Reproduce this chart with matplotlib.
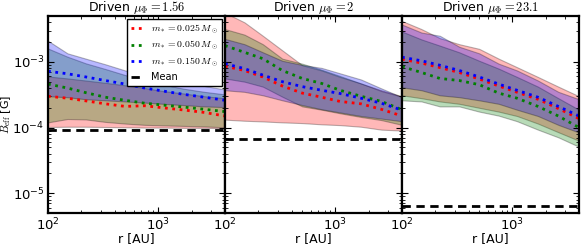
import matplotlib
matplotlib.use("Agg")
import matplotlib.pyplot as plt

plt.rcParams["mathtext.fontset"] = "cm"
plt.rcParams["font.family"] = ["DejaVu Sans"]
plt.rcParams["font.size"] = 10

# radius grid [AU]
r = [100, 150, 220, 330, 500, 750, 1100, 1700, 2600, 4000]

masses = ["0.025", "0.050", "0.150"]
colors = ["r", "g", "b"]

# ---- Driven mu = 1.56 ----
p1_mean_red = [3.0e-4, 2.8e-4, 2.55e-4, 2.3e-4, 2.1e-4, 2.15e-4, 2.0e-4, 1.85e-4, 1.7e-4, 1.5e-4]
p1_lo_red = [1.02e-4, 1.03e-4, 1.03e-4, 1.02e-4, 1.01e-4, 1.0e-4, 1.0e-4, 0.99e-4, 0.99e-4, 0.98e-4]
p1_hi_red = [6.0e-4, 5.6e-4, 5.2e-4, 4.8e-4, 4.4e-4, 4.0e-4, 3.6e-4, 3.3e-4, 3.0e-4, 2.8e-4]
p1_mean_green = [4.6e-4, 4.0e-4, 3.4e-4, 2.9e-4, 2.6e-4, 2.35e-4, 2.2e-4, 2.05e-4, 1.9e-4, 1.75e-4]
p1_lo_green = [1.2e-4, 1.35e-4, 1.33e-4, 1.22e-4, 1.15e-4, 1.1e-4, 1.08e-4, 1.06e-4, 1.04e-4, 1.01e-4]
p1_hi_green = [1.6e-3, 1.2e-3, 9.5e-4, 7.8e-4, 6.3e-4, 5.2e-4, 4.5e-4, 3.9e-4, 3.5e-4, 3.2e-4]
p1_mean_blue = [7.2e-4, 6.6e-4, 5.9e-4, 5.2e-4, 4.6e-4, 4.0e-4, 3.6e-4, 3.2e-4, 2.9e-4, 2.6e-4]
p1_lo_blue = [3.0e-4, 2.9e-4, 2.7e-4, 2.6e-4, 2.5e-4, 2.4e-4, 2.3e-4, 2.2e-4, 2.1e-4, 2.05e-4]
p1_hi_blue = [2.1e-3, 1.35e-3, 1.12e-3, 9.2e-4, 7.4e-4, 6.3e-4, 5.6e-4, 4.9e-4, 4.3e-4, 3.8e-4]
p1_mean = 9.3e-5

# ---- Driven mu = 2 ----
p2_mean_red = [8.6e-4, 7.4e-4, 5.9e-4, 4.3e-4, 3.35e-4, 2.9e-4, 2.5e-4, 2.3e-4, 1.9e-4, 1.5e-4]
p2_lo_red = [1.32e-4, 1.27e-4, 1.24e-4, 1.2e-4, 1.17e-4, 1.12e-4, 1.09e-4, 1.03e-4, 9.3e-5, 9.0e-5]
p2_hi_red = [5.6e-3, 4.0e-3, 2.5e-3, 1.5e-3, 8.9e-4, 7.4e-4, 5.9e-4, 4.7e-4, 3.7e-4, 3.0e-4]
p2_mean_green = [1.77e-3, 1.4e-3, 1.12e-3, 7.4e-4, 5.6e-4, 4.7e-4, 3.7e-4, 3.0e-4, 2.5e-4, 1.87e-4]
p2_lo_green = [5.6e-4, 5.0e-4, 4.2e-4, 2.95e-4, 2.1e-4, 1.87e-4, 1.65e-4, 1.45e-4, 1.3e-4, 1.1e-4]
p2_hi_green = [3.16e-3, 2.6e-3, 1.86e-3, 1.12e-3, 9.4e-4, 7.6e-4, 6.1e-4, 4.7e-4, 3.6e-4, 2.95e-4]
p2_mean_blue = [9.4e-4, 7.9e-4, 6.3e-4, 5.0e-4, 4.2e-4, 3.7e-4, 3.3e-4, 2.8e-4, 2.35e-4, 1.84e-4]
p2_lo_blue = [3.7e-4, 3.5e-4, 3.1e-4, 2.6e-4, 2.2e-4, 1.9e-4, 1.7e-4, 1.5e-4, 1.37e-4, 1.25e-4]
p2_hi_blue = [2.24e-3, 1.86e-3, 1.4e-3, 1.04e-3, 9.0e-4, 8.1e-4, 6.7e-4, 5.4e-4, 3.95e-4, 2.9e-4]
p2_mean = 6.8e-5

# ---- Driven mu = 23.1 ----
p3_mean_red = [1.1e-3, 9.6e-4, 8.2e-4, 6.9e-4, 5.5e-4, 4.3e-4, 3.45e-4, 2.7e-4, 1.95e-4, 1.37e-4]
p3_lo_red = [3.1e-4, 2.8e-4, 2.5e-4, 2.3e-4, 2.0e-4, 1.75e-4, 1.5e-4, 1.15e-4, 8.5e-5, 6.3e-5]
p3_hi_red = [4.2e-3, 3.16e-3, 2.3e-3, 1.86e-3, 1.58e-3, 1.12e-3, 8.3e-4, 5.9e-4, 4.2e-4, 3.0e-4]
p3_mean_green = [8.5e-4, 6.9e-4, 5.6e-4, 5.2e-4, 4.5e-4, 3.35e-4, 2.8e-4, 2.1e-4, 1.5e-4, 1.0e-4]
p3_lo_green = [2.6e-4, 2.5e-4, 2.1e-4, 2.1e-4, 1.75e-4, 1.52e-4, 1.25e-4, 9.3e-5, 7.1e-5, 5.1e-5]
p3_hi_green = [2.9e-3, 2.2e-3, 1.77e-3, 1.4e-3, 1.04e-3, 7.9e-4, 5.9e-4, 4.2e-4, 2.8e-4, 1.87e-4]
p3_mean_blue = [1.18e-3, 1.04e-3, 8.9e-4, 7.4e-4, 5.9e-4, 4.6e-4, 3.7e-4, 2.9e-4, 2.1e-4, 1.5e-4]
p3_lo_blue = [4.1e-4, 3.7e-4, 3.1e-4, 2.9e-4, 2.6e-4, 2.3e-4, 1.87e-4, 1.5e-4, 1.1e-4, 8.4e-5]
p3_hi_blue = [3.7e-3, 2.8e-3, 2.5e-3, 1.7e-3, 1.35e-3, 9.4e-4, 7.4e-4, 5.2e-4, 3.5e-4, 2.7e-4]
p3_mean = 6.3e-6

titles = [r"Driven $\mu_\Phi = 1.56$", r"Driven $\mu_\Phi = 2$", r"Driven $\mu_\Phi = 23.1$"]

panels = [
    ([p1_mean_red, p1_mean_green, p1_mean_blue],
     [p1_lo_red, p1_lo_green, p1_lo_blue],
     [p1_hi_red, p1_hi_green, p1_hi_blue], p1_mean),
    ([p2_mean_red, p2_mean_green, p2_mean_blue],
     [p2_lo_red, p2_lo_green, p2_lo_blue],
     [p2_hi_red, p2_hi_green, p2_hi_blue], p2_mean),
    ([p3_mean_red, p3_mean_green, p3_mean_blue],
     [p3_lo_red, p3_lo_green, p3_lo_blue],
     [p3_hi_red, p3_hi_green, p3_hi_blue], p3_mean),
]

fig = plt.figure(figsize=(5.81, 2.47), dpi=100)
left, bottom, w, h = 48 / 581, 1 - 213 / 247, 177 / 581, 197 / 247

for i, (means, los, his, mean_b) in enumerate(panels):
    ax = fig.add_axes([left + i * w, bottom, w, h])
    for c, lo, hi in zip(colors, los, his):
        ax.fill_between(r, lo, hi, facecolor=c, edgecolor="k", alpha=0.28, lw=0.8)
    for c, m, mval in zip(colors, masses, means):
        ax.plot(r, mval, ls=":", color=c, lw=2, label=rf"$m_* = {m}\,M_\odot$")
    ax.axhline(mean_b, ls="--", color="k", lw=2, dashes=(3, 2), label="Mean")

    ax.set_xscale("log")
    ax.set_yscale("log")
    ax.set_xlim(100, 4000)
    ax.set_ylim(5e-6, 5e-3)
    ax.set_title(titles[i], fontsize=9, pad=1.5)
    ax.set_xlabel("r [AU]", fontsize=9, labelpad=-1)
    ax.tick_params(which="both", direction="in", top=True, right=True, labelsize=9.5, pad=2.5)
    ax.tick_params(which="major", length=4, width=0.8)
    ax.tick_params(which="minor", length=2, width=0.6)
    for s in ax.spines.values():
        s.set_linewidth(1.6)
    if i == 0:
        ax.set_ylabel(r"$B_{\rm eff}$ [G]", fontsize=8)
        ax.yaxis.set_label_coords(-0.2, 0.5)
        ax.legend(loc="upper right", fontsize=7, handlelength=1.3, borderaxespad=0.3,
                  fancybox=False, edgecolor="k", framealpha=1, labelspacing=0.35)
    else:
        ax.tick_params(axis="y", which="both", labelleft=False)

fig.savefig("out.png", dpi=100)
